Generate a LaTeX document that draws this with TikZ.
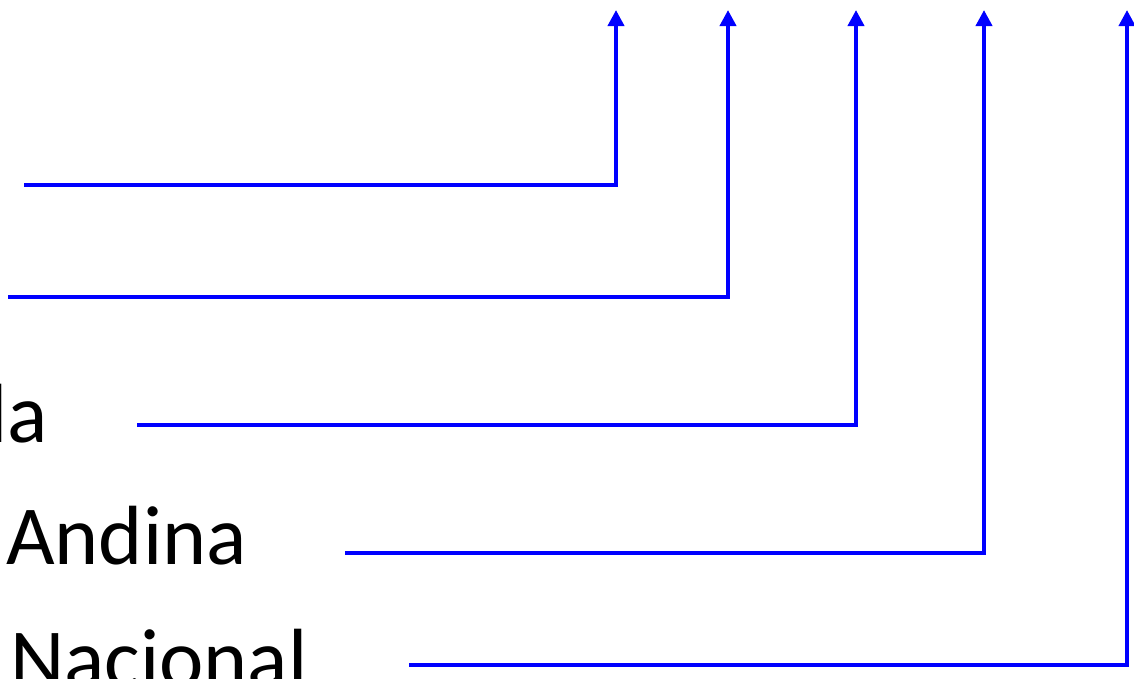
\documentclass[tikz,border=0pt]{standalone}
\usepackage{fontspec}
\setmainfont{Carlito}
\usepackage{xcolor}
\usepackage{tikz}
\usetikzlibrary{positioning}
\usetikzlibrary{arrows.meta}

\begin{document}
\begin{tikzpicture}[x=1pt,y=-1pt,
  label/.style = {inner sep=0pt,font=\fontsize{84}{100}\selectfont},
  link/.style = {draw=blue,line width=3.8pt,
        -{Triangle[length=16pt,width=16pt]}}
]
 \useasboundingbox (0,0) rectangle (1134,678);
 % labels, cut by the left and bottom edge
 \node[label,anchor=base east] (la) at (48,442) {la};
 \node[label,anchor=base west] (andina) at (6,564) {Andina};
 \node[label,anchor=base west] (nacional) at (10,687) {Nacional};
 % line starts
 \coordinate (s1) at (24,185);
 \coordinate (s2) at (8,297);
 \coordinate (s3) at (137,425);
 \coordinate (s4) at (345,553);
 \coordinate (s5) at (409,665);
 % arrow tips
 \coordinate (t1) at (616,10);
 \coordinate (t2) at (728,10);
 \coordinate (t3) at (856,10);
 \coordinate (t4) at (984,10);
 \coordinate (t5) at (1127,10);
 \draw[link] (s1) -| (t1);
 \draw[link] (s2) -| (t2);
 \draw[link] (s3) -| (t3);
 \draw[link] (s4) -| (t4);
 \draw[link] (s5) -| (t5);
\end{tikzpicture}
\end{document}
